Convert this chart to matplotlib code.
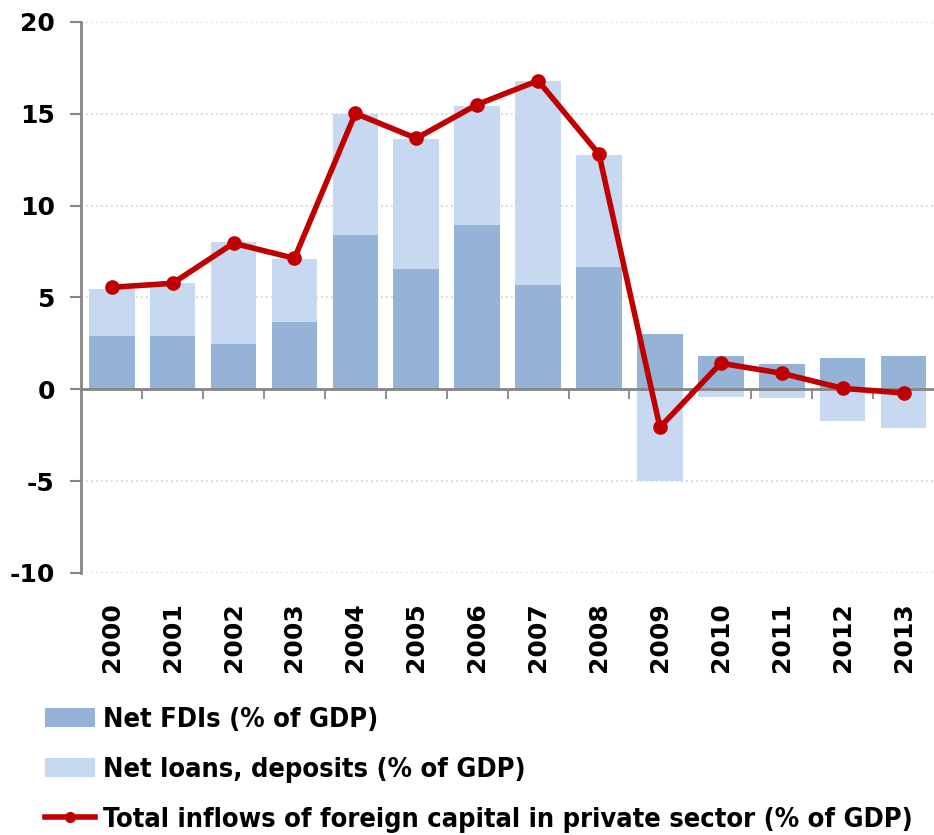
import matplotlib.pyplot as plt
from matplotlib.lines import Line2D
from matplotlib.patches import Patch

plt.rcParams["axes.unicode_minus"] = False

years = ["2000", "2001", "2002", "2003", "2004", "2005", "2006",
         "2007", "2008", "2009", "2010", "2011", "2012", "2013"]
net_fdi = [2.9, 2.9, 2.45, 3.65, 8.4, 6.55, 8.95, 5.65, 6.65, 3.0, 1.8, 1.35, 1.7, 1.8]
net_loans = [2.55, 2.9, 5.55, 3.45, 6.6, 7.05, 6.45, 11.15, 6.1, -5.0, -0.4, -0.5, -1.7, -2.1]
total_inflows = [5.55, 5.77, 7.95, 7.13, 15.02, 13.66, 15.5, 16.8, 12.8, -2.07, 1.42, 0.87, 0.05, -0.2]

c_fdi = "#95B3D7"
c_loans = "#C6D9F0"
c_line = "#C00000"
c_axis = "#868686"

fig = plt.figure(figsize=(9.34, 8.35), dpi=100)
ax = fig.add_axes([0.087, 0.3138, 0.913, 0.66])

x = list(range(len(years)))
# loans stack on top of FDI when positive, hang below zero when negative
loans_bottom = [f if l > 0 else 0 for f, l in zip(net_fdi, net_loans)]

ax.bar(x, net_fdi, width=0.75, color=c_fdi, zorder=2)
ax.bar(x, net_loans, width=0.75, bottom=loans_bottom, color=c_loans, zorder=2)
ax.plot(x, total_inflows, color=c_line, lw=4, marker="o", ms=9.5, zorder=4)

ax.set_xlim(-0.5, len(years) - 0.5)
ax.set_ylim(-10, 20)
ax.set_yticks([-10, -5, 0, 5, 10, 15, 20])
ax.yaxis.grid(True, linestyle=(0, (1, 2)), color="#D0D0D0", lw=1.2, zorder=0)

for s in ["top", "right"]:
    ax.spines[s].set_visible(False)
ax.spines["left"].set_color(c_axis)
ax.spines["left"].set_linewidth(2)
ax.spines["bottom"].set_position(("data", 0))
ax.spines["bottom"].set_color(c_axis)
ax.spines["bottom"].set_linewidth(2)
ax.spines["bottom"].set_zorder(3)

# boundary ticks on the zero line
ax.set_xticks([])
ax.set_xticks([i + 0.5 for i in x[:-1]], minor=True)
ax.tick_params(axis="x", which="minor", length=7, width=1.3, color=c_axis, direction="out")
ax.tick_params(axis="y", length=8, width=1.5, color=c_axis, labelsize=18, pad=11)
for lab in ax.get_yticklabels():
    lab.set_fontweight("bold")

# year labels at the bottom of the plot area
sec = ax.secondary_xaxis("bottom")
sec.set_xticks(x, labels=years, rotation=90, fontsize=18, fontweight="bold")
sec.tick_params(length=0, pad=21)
sec.spines["bottom"].set_visible(False)

handles = [
    Patch(facecolor=c_fdi),
    Patch(facecolor=c_loans),
    Line2D([0], [0], color=c_line, lw=4, marker="o", ms=7),
]
labels = ["Net FDIs (% of GDP)", "Net loans, deposits (% of GDP)",
          "Total inflows of foreign capital in private sector (% of GDP)"]
fig.legend(handles, labels, loc="upper left", bbox_to_anchor=(0.048, 1 - 707 / 835),
           frameon=False, borderpad=0, borderaxespad=0, handlelength=1.85,
           handletextpad=0.3, labelspacing=0.88,
           prop={"family": "DejaVu Sans", "stretch": "condensed", "weight": "bold", "size": 19.5})

fig.savefig("out.png", dpi=100)
